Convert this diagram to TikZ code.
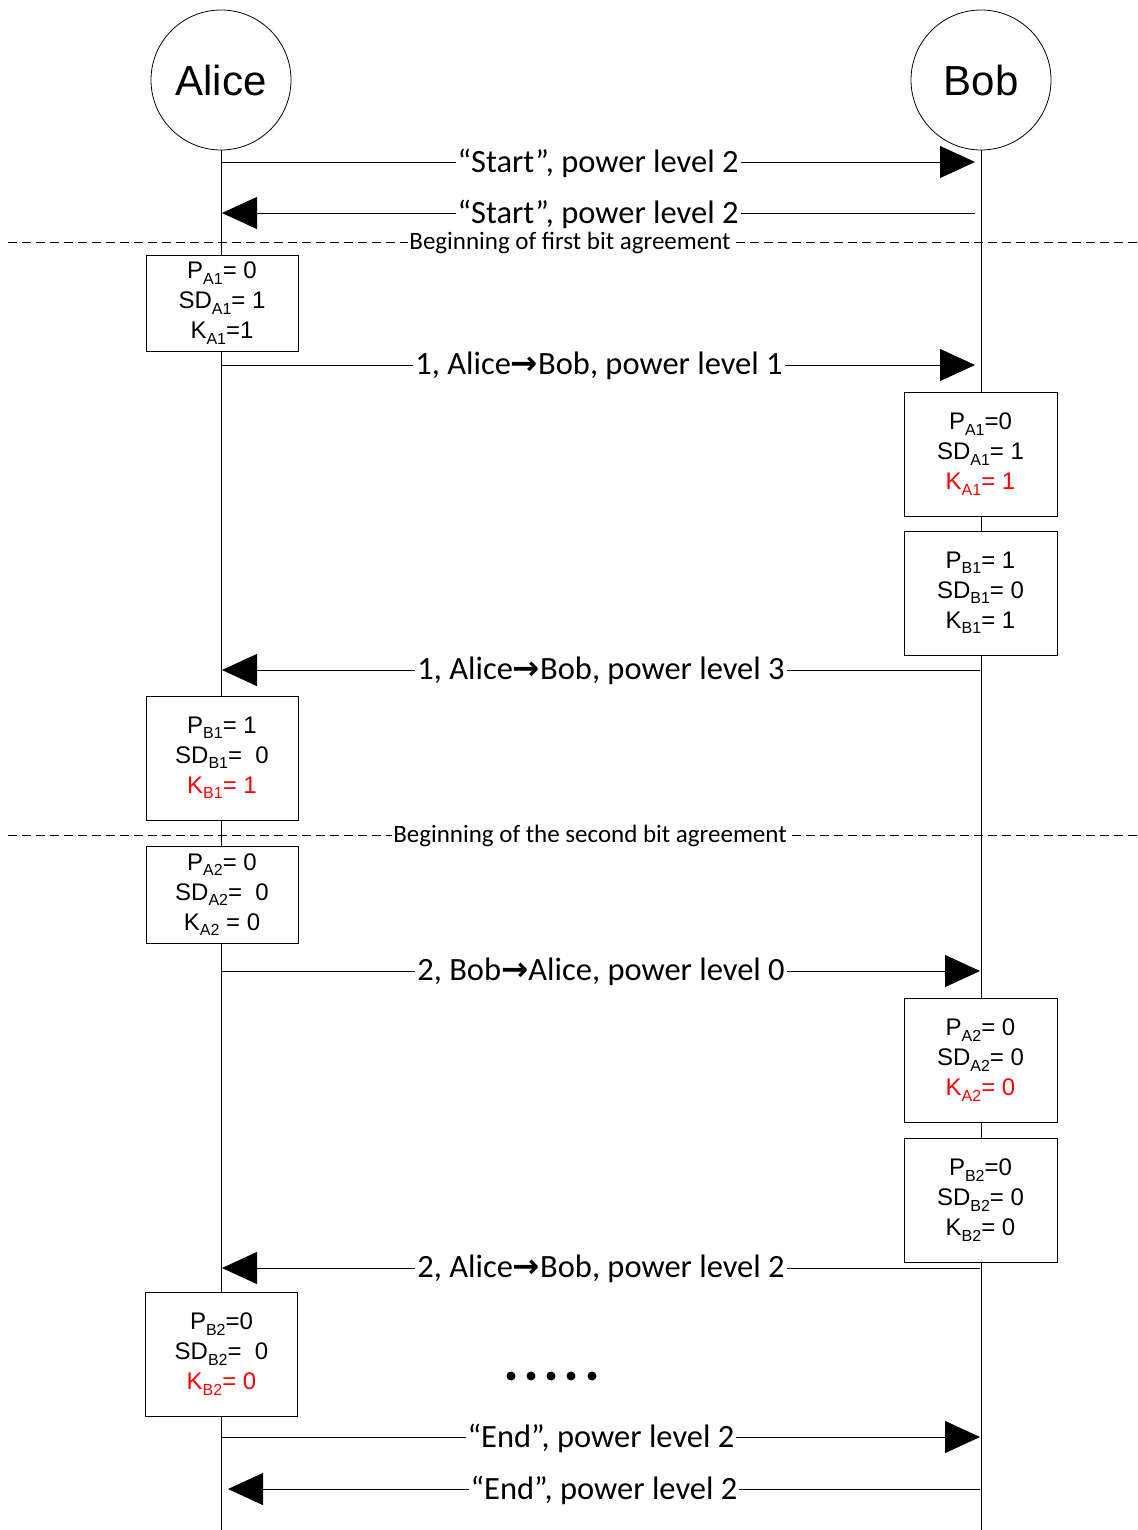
\documentclass[tikz,border=0pt]{standalone}
\usepackage{fontspec}
\setmainfont{Liberation Sans}
\newfontfamily\lblfont{Carlito}
\newfontfamily\symfont{DejaVu Sans}
\usetikzlibrary{arrows.meta}
\newcommand\sbx[1]{\raisebox{-0.22em}{\fontsize{16}{16}\selectfont #1}}
\newcommand\rarr{{\symfont\bfseries →}}
\tikzset{
 actor/.style={draw, circle, minimum size=140pt, inner sep=0pt, line width=0.8pt, font=\fontsize{42}{42}\selectfont},
 life/.style={line width=0.8pt},
 msg/.style={line width=0.8pt, -{Triangle[length=35pt,width=32pt]}},
 lbl/.style={fill=white, inner sep=2pt, font=\lblfont\fontsize{32.5}{32.5}\selectfont},
 sepline/.style={dash pattern=on 9pt off 5pt, line width=0.8pt},
 seplbl/.style={fill=white, inner sep=1pt, font=\lblfont\fontsize{25}{25}\selectfont},
 state/.style={draw, fill=white, line width=0.8pt, align=center, font=\fontsize{24}{30}\selectfont, inner sep=0pt},
 lstate/.style={state, minimum width=152pt, minimum height=124pt},
 rstate/.style={state, minimum width=153pt, minimum height=124pt},
 dot/.style={fill=black, circle, inner sep=0pt, minimum size=9pt},
}
\begin{document}
\begin{tikzpicture}[x=1pt,y=-1pt]
\useasboundingbox (0,0) rectangle (1137,1530);
% actors
\node[actor] (alice) at (221,80) {Alice};
\node[actor] (bob) at (981,80) {Bob};
\coordinate (aliceEnd) at (221,1530);
\coordinate (bobEnd) at (981,1530);
\draw[life] (alice.south) -- (aliceEnd);
\draw[life] (bob.south) -- (bobEnd);

% start messages
\coordinate (m1a) at (221,162); \coordinate (m1b) at (975,162);
\draw[msg] (m1a) -- (m1b);
\node[lbl] (l1) at (598,163) {“Start”, power level 2};
\coordinate (m2a) at (975,213); \coordinate (m2b) at (222,213);
\draw[msg] (m2a) -- (m2b);
\node[lbl] (l2) at (598,214) {“Start”, power level 2};

% separator 1
\coordinate (s1a) at (8,242); \coordinate (s1b) at (1137,242);
\draw[sepline] (s1a) -- (s1b);
\node[seplbl] (sl1) at (570,243) {Beginning of first bit agreement};

\node[lstate, minimum height=96pt] (bA1) at (222,303) {P\sbx{A1}= 0\\SD\sbx{A1}= 1\\K\sbx{A1}=1};

\coordinate (m3a) at (221,365); \coordinate (m3b) at (975,365);
\draw[msg] (m3a) -- (m3b);
\node[lbl] (l3) at (599,366) {1, Alice\rarr Bob, power level 1};

\node[rstate] (bbA1) at (980.5,454) {P\sbx{A1}=0\\SD\sbx{A1}= 1\\\textcolor{red}{K\sbx{A1}= 1}};
\node[rstate] (bbB1) at (980.5,593) {P\sbx{B1}= 1\\SD\sbx{B1}= 0\\K\sbx{B1}= 1};

\coordinate (m4a) at (980,670); \coordinate (m4b) at (222,670);
\draw[msg] (m4a) -- (m4b);
\node[lbl] (l4) at (601,671) {1, Alice\rarr Bob, power level 3};

\node[lstate] (bB1) at (222,758) {P\sbx{B1}= 1\\SD\sbx{B1}=~~0\\\textcolor{red}{K\sbx{B1}= 1}};

% separator 2
\coordinate (s2a) at (8,835); \coordinate (s2b) at (1137,835);
\draw[sepline] (s2a) -- (s2b);
\node[seplbl] (sl2) at (590,836) {Beginning of the second bit agreement};

\node[lstate, minimum height=97pt] (bA2) at (222,894.5) {P\sbx{A2}= 0\\SD\sbx{A2}=~~0\\K\sbx{A2} = 0};

\coordinate (m5a) at (221,971); \coordinate (m5b) at (980,971);
\draw[msg] (m5a) -- (m5b);
\node[lbl] (l5) at (601,972) {2, Bob\rarr Alice, power level 0};

\node[rstate] (bbA2) at (980.5,1060) {P\sbx{A2}= 0\\SD\sbx{A2}= 0\\\textcolor{red}{K\sbx{A2}= 0}};
\node[rstate] (bbB2) at (980.5,1200) {P\sbx{B2}=0\\SD\sbx{B2}= 0\\K\sbx{B2}= 0};

\coordinate (m6a) at (980,1268); \coordinate (m6b) at (222,1268);
\draw[msg] (m6a) -- (m6b);
\node[lbl] (l6) at (601,1269) {2, Alice\rarr Bob, power level 2};

\node[lstate] (bB2) at (221.5,1354) {P\sbx{B2}=0\\SD\sbx{B2}=~~0\\\textcolor{red}{K\sbx{B2}= 0}};

% dots
\foreach \i/\x in {1/511,2/531,3/551,4/571,5/592}{\node[dot] (d\i) at (\x,1376) {};}

\coordinate (m7a) at (221,1437); \coordinate (m7b) at (980,1437);
\draw[msg] (m7a) -- (m7b);
\node[lbl] (l7) at (601,1438) {“End”, power level 2};
\coordinate (m8a) at (980,1489); \coordinate (m8b) at (228,1489);
\draw[msg] (m8a) -- (m8b);
\node[lbl] (l8) at (604,1490) {“End”, power level 2};
\end{tikzpicture}
\end{document}
